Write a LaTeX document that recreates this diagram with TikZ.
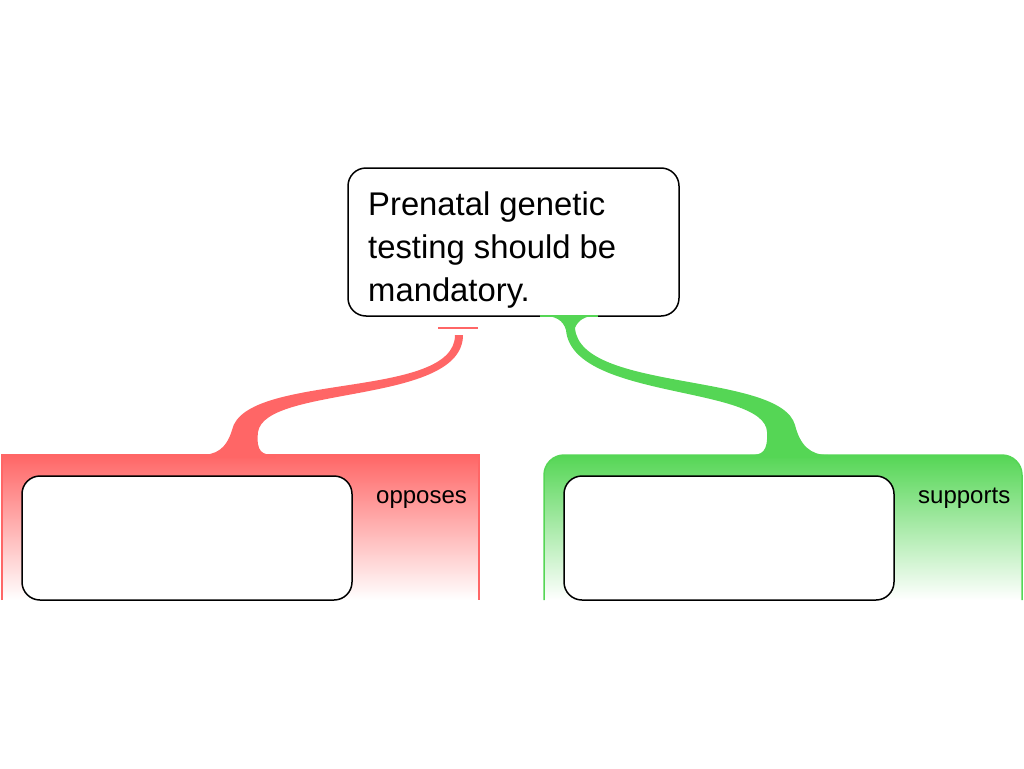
\documentclass[tikz,border=0pt]{standalone}
\usepackage{fontspec}
\setmainfont{Liberation Sans}
\usetikzlibrary{calc,positioning}
\definecolor{opposered}{HTML}{FF6666}
\definecolor{supportgreen}{HTML}{55D655}
\tikzset{
  argbox/.style={draw=black, line width=1.5pt, fill=white, rounded corners=18pt, inner sep=0pt},
  claimtext/.style={align=left, inner sep=0pt, font=\fontsize{32.8}{43}\selectfont},
  reltext/.style={inner sep=0pt, font=\fontsize{24}{29}\selectfont},
}
\begin{document}
\begin{tikzpicture}[x=1pt,y=-1pt]
			%%%%% START %%%%%
			\useasboundingbox (0,0) rectangle (1024,768);
			
			\shade[top color=opposered, bottom color=white] (2,455) rectangle (479,600);
			\draw[opposered, line width=1.5pt] (2,600) -- (2,455) -- (479,455) -- (479,600);
			
			\shade[top color=supportgreen, bottom color=white] (544,600) -- (544,475) arc[start angle=180, end angle=270, radius=20] -- (1002,455) arc[start angle=270, end angle=360, radius=20] -- (1022,600) -- cycle;
			\draw[supportgreen, line width=1.5pt] (544,600) -- (544,475) arc[start angle=180, end angle=270, radius=20] -- (1002,455) arc[start angle=270, end angle=360, radius=20] -- (1022,600);
			
			\node[argbox, minimum width=331pt, minimum height=148pt] (claim) at (513.5,242) {};
			\node[claimtext, anchor=north west] (claim text) at (368,191.5) {Prenatal genetic\\testing should be\\mandatory.};
			
			\node[argbox, minimum width=330pt, minimum height=124pt] (objection) at (187,538) {};
			\node[argbox, minimum width=330pt, minimum height=124pt] (reason) at (729,538) {};
			
			\node[reltext, anchor=base west] (oppose label) at (376,503) {opposes};
			\node[reltext, anchor=base west] (support label) at (918,503) {supports};
			
			\fill[opposered] (455,335) .. controls (455,400) and (245,372) .. (232,430) .. controls (226,450) and (215,455) .. (200,455) -- (200,458) -- (275,458) -- (275,455) .. controls (262,455) and (256,452) .. (258,432) .. controls (265,385) and (463,405) .. (463,335) -- cycle;
			\draw[opposered, line width=1.5pt] (438,328) -- (478,328);
			
			\fill[supportgreen] (540,315) .. controls (556,316) and (563,320) .. (566,330) .. controls (572,400) and (765,385) .. (767,432) .. controls (768,452) and (762,455) .. (750,455) -- (750,458) -- (830,458) -- (828,455) .. controls (810,455) and (800,445) .. (795,425) .. controls (780,372) and (580,392) .. (575,328) .. controls (578,320) and (585,316) .. (598,315) -- cycle;
			\draw[supportgreen, line width=2pt] (540,316) -- (598,316);
			
			%%%%% END %%%%%
\end{tikzpicture}
\end{document}
